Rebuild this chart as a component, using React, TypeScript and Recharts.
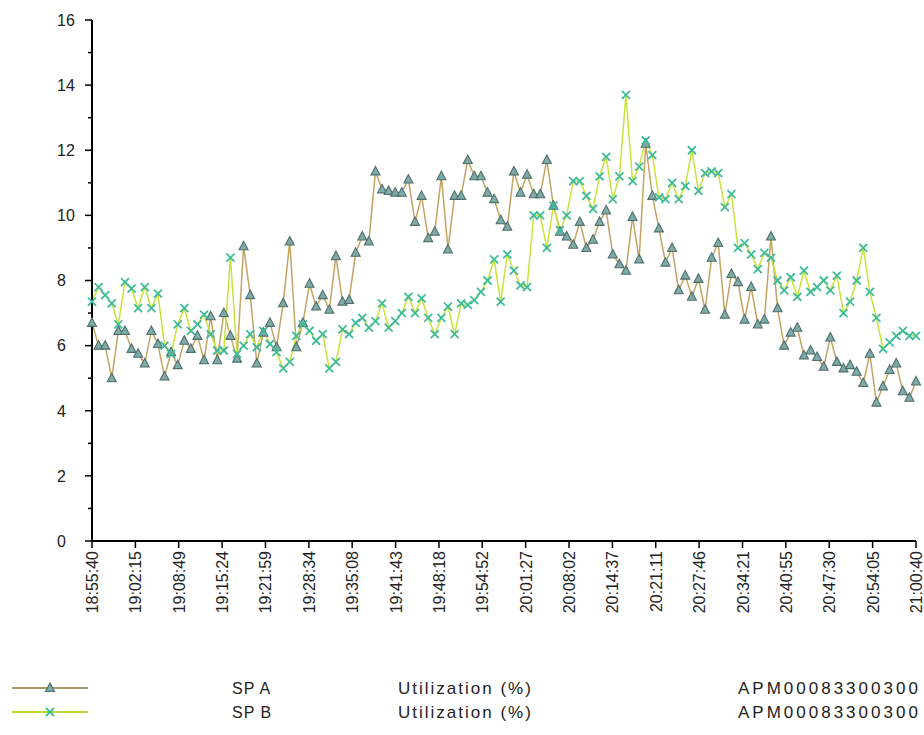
import React from "react";
import { LineChart, Line, XAxis, YAxis } from "recharts";

const START = "18:55:40";
const TICK_LABELS = [
  "18:55:40", "19:02:15", "19:08:49", "19:15:24", "19:21:59", "19:28:34", "19:35:08",
  "19:41:43", "19:48:18", "19:54:52", "20:01:27", "20:08:02", "20:14:37", "20:21:11",
  "20:27:46", "20:34:21", "20:40:55", "20:47:30", "20:54:05", "21:00:40",
];
const Y_TICKS = [0, 1, 2, 3, 4, 5, 6, 7, 8, 9, 10, 11, 12, 13, 14, 15, 16];

// one sample per minute, Utilization (%)
const SP_A = [
  6.7, 6.0, 6.0, 5.0, 6.45, 6.45, 5.9, 5.75, 5.45, 6.45,
  6.05, 5.05, 5.8, 5.4, 6.15, 5.9, 6.3, 5.55, 6.9, 5.55,
  7.0, 6.3, 5.6, 9.05, 7.55, 5.45, 6.4, 6.7, 5.95, 7.3,
  9.2, 5.95, 6.7, 7.9, 7.2, 7.55, 7.1, 8.75, 7.35, 7.4,
  8.85, 9.35, 9.2, 11.35, 10.8, 10.75, 10.7, 10.7, 11.1, 9.8,
  10.6, 9.3, 9.5, 11.2, 8.95, 10.6, 10.6, 11.7, 11.2, 11.2,
  10.7, 10.5, 9.85, 9.65, 11.35, 10.7, 11.25, 10.65, 10.65, 11.7,
  10.3, 9.5, 9.35, 9.1, 9.8, 9.0, 9.25, 9.8, 10.15, 8.8,
  8.5, 8.3, 9.95, 8.65, 12.2, 10.6, 9.6, 8.55, 9.0, 7.7,
  8.15, 7.5, 8.05, 7.1, 8.7, 9.15, 6.95, 8.2, 7.95, 6.8,
  7.8, 6.65, 6.8, 9.35, 7.15, 6.0, 6.4, 6.55, 5.7, 5.85,
  5.65, 5.35, 6.25, 5.5, 5.3, 5.4, 5.2, 4.85, 5.75, 4.25,
  4.75, 5.25, 5.45, 4.6, 4.4, 4.9,
];
const SP_B = [
  7.35, 7.8, 7.55, 7.3, 6.65, 7.95, 7.75, 7.15, 7.8, 7.15,
  7.6, 6.0, 5.75, 6.65, 7.15, 6.45, 6.65, 6.95, 6.35, 5.85,
  5.85, 8.7, 5.75, 6.0, 6.35, 5.95, 6.45, 6.05, 5.8, 5.3,
  5.5, 6.3, 6.65, 6.45, 6.15, 6.35, 5.3, 5.5, 6.5, 6.35,
  6.7, 6.85, 6.55, 6.75, 7.3, 6.55, 6.75, 7.0, 7.5, 7.0,
  7.45, 6.85, 6.35, 6.85, 7.2, 6.35, 7.3, 7.25, 7.4, 7.65,
  8.0, 8.65, 7.35, 8.8, 8.3, 7.85, 7.8, 10.0, 10.0, 9.0,
  10.3, 9.55, 10.0, 11.05, 11.05, 10.6, 10.2, 11.2, 11.8, 10.5,
  11.2, 13.7, 11.05, 11.5, 12.3, 11.85, 10.55, 10.5, 11.0, 10.5,
  10.9, 12.0, 10.75, 11.3, 11.35, 11.3, 10.25, 10.65, 9.0, 9.15,
  8.8, 8.35, 8.85, 8.7, 8.0, 7.7, 8.1, 7.5, 8.3, 7.65,
  7.8, 8.0, 7.7, 8.15, 7.0, 7.35, 8.0, 9.0, 7.65, 6.85,
  5.9, 6.1, 6.3, 6.45, 6.3, 6.3,
];

const SERIES = [
  { key: "a", name: "SP A", metric: "Utilization (%)", source: "APM00083300300", line: "#c4a463", legendLine: "#a39c62", marker: "triangle" },
  { key: "b", name: "SP B", metric: "Utilization (%)", source: "APM00083300300", line: "#cce23c", legendLine: "#bcd83c", marker: "cross" },
];

const FONT = "'Liberation Sans', Arial, sans-serif";

const toSec = (s: string) => {
  const [h, m, sec] = s.split(":").map(Number);
  return h * 3600 + m * 60 + sec;
};
const T0 = toSec(START);
const xTicks = TICK_LABELS.map((l) => toSec(l) - T0);
const labelOf = new Map(xTicks.map((t, i) => [t, TICK_LABELS[i]]));

const data = SP_A.map((a, i) => ({ t: i * 60, a, b: SP_B[i] }));

function Triangle({ cx, cy }: { cx: number; cy: number }) {
  return (
    <polygon
      points={`${cx},${cy - 5} ${cx - 4.5},${cy + 3.5} ${cx + 4.5},${cy + 3.5}`}
      fill="#7eaaa7"
      stroke="#4f6f6d"
      strokeWidth={1.1}
    />
  );
}

function Cross({ cx, cy }: { cx: number; cy: number }) {
  return (
    <g stroke="#3fbb9c" strokeWidth={1.8}>
      <line x1={cx - 4} y1={cy - 4} x2={cx + 4} y2={cy + 4} />
      <line x1={cx - 4} y1={cy + 4} x2={cx + 4} y2={cy - 4} />
    </g>
  );
}

const XTick = ({ x, y, payload }: any) => (
  <text
    transform={`translate(${x + 6},${y + 3}) rotate(-90)`}
    textAnchor="end"
    fontSize={16}
    fontFamily={FONT}
    fill="#222"
  >
    {labelOf.get(payload.value)}
  </text>
);

const YTick = ({ x, y, payload }: any) => {
  const major = payload.value % 2 === 0;
  return (
    <g>
      <line x1={x - (major ? 7 : 4)} y1={y} x2={x} y2={y} stroke="#000" strokeWidth={1.5} />
      {major && (
        <text x={57} y={y} dy="0.36em" fontSize={16} fontFamily={FONT} fill="#222">
          {payload.value}
        </text>
      )}
    </g>
  );
};

function LegendRows() {
  return (
    <svg width={924} height={60} style={{ position: "absolute", left: 0, top: 670 }}>
      {SERIES.map((s, i) => {
        const y = 18 + i * 24;
        return (
          <g key={s.key}>
            <line x1={12} y1={y} x2={88} y2={y} stroke={s.legendLine} strokeWidth={2} />
            {s.marker === "triangle" ? <Triangle cx={50} cy={y} /> : <Cross cx={50} cy={y} />}
            <g fontSize={16} fontFamily={FONT} fill="#222">
              <text x={232} y={y} dy="0.36em" letterSpacing={1}>{s.name}</text>
              <text x={398} y={y} dy="0.36em" fontSize={17} letterSpacing={2}>{s.metric}</text>
              <text x={738} y={y} dy="0.36em" fontSize={17} letterSpacing={3}>{s.source}</text>
            </g>
          </g>
        );
      })}
    </svg>
  );
}

export default function App() {
  return (
    <div style={{ position: "absolute", left: 0, top: 0, width: 924, height: 735, background: "#fff", overflow: "hidden" }}>
      <LineChart width={924} height={735} data={data} margin={{ top: 20, right: 8, bottom: 0, left: 0 }}>
        <XAxis
          dataKey="t"
          type="number"
          domain={[0, xTicks[xTicks.length - 1]]}
          ticks={xTicks}
          interval={0}
          height={194}
          tick={<XTick />}
          tickSize={7}
          tickMargin={0}
          axisLine={{ stroke: "#000", strokeWidth: 2 }}
          tickLine={{ stroke: "#000", strokeWidth: 1.5 }}
        />
        <YAxis
          type="number"
          domain={[0, 16]}
          ticks={Y_TICKS}
          interval={0}
          width={92}
          tick={<YTick />}
          tickSize={0}
          tickMargin={0}
          tickLine={false}
          axisLine={{ stroke: "#000", strokeWidth: 2 }}
        />
        <Line
          dataKey="a"
          name="SP A"
          type="linear"
          stroke={SERIES[0].line}
          strokeWidth={1.5}
          dot={(p: any) => <Triangle key={`a${p.index}`} cx={p.cx} cy={p.cy} />}
          activeDot={false}
          isAnimationActive={false}
        />
        <Line
          dataKey="b"
          name="SP B"
          type="linear"
          stroke={SERIES[1].line}
          strokeWidth={1.5}
          dot={(p: any) => <Cross key={`b${p.index}`} cx={p.cx} cy={p.cy} />}
          activeDot={false}
          isAnimationActive={false}
        />
      </LineChart>
      <LegendRows />
    </div>
  );
}
